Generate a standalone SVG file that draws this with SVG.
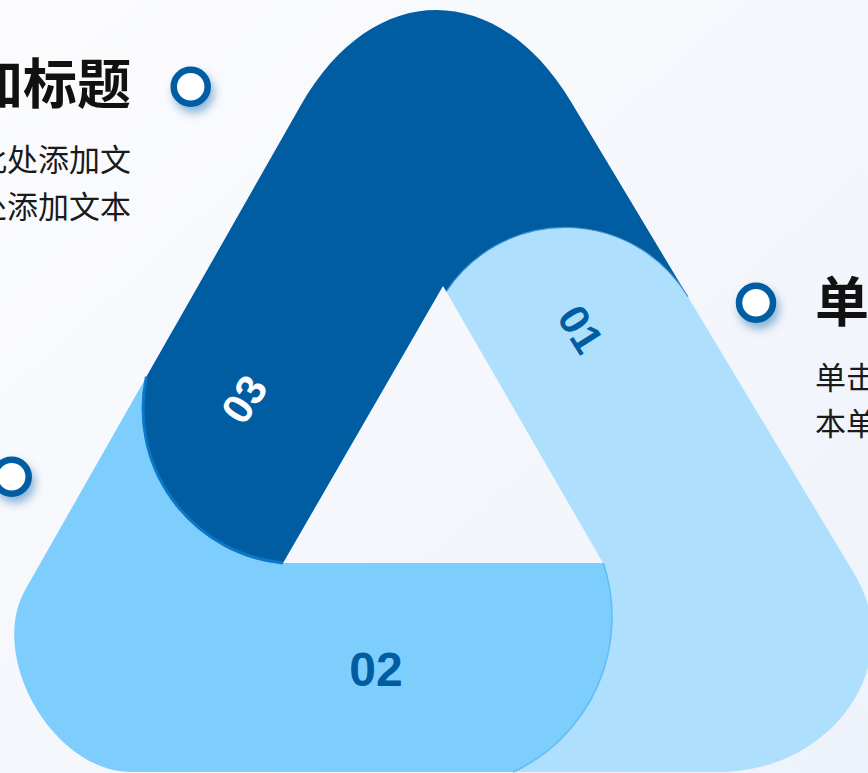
<svg xmlns="http://www.w3.org/2000/svg" width="868" height="773" viewBox="0 0 868 773">
<defs>
<linearGradient id="bg" x1="0" y1="0" x2="1" y2="1"><stop offset="0" stop-color="#fcfcfe"/><stop offset="1" stop-color="#eef2fa"/></linearGradient>
<filter id="glow" x="-100%" y="-100%" width="300%" height="300%"><feDropShadow dx="3" dy="6" stdDeviation="5" flood-color="#0a5ea8" flood-opacity="0.45"/></filter>
</defs>
<style>
.dark{fill:#005da1}
.mid{fill:#7ecefd}
.light{fill:#aee0fd}
.num{font-family:"Liberation Sans",Arial,sans-serif;font-weight:bold;text-anchor:middle}
.title{font-family:"Noto Sans CJK SC","Noto Sans",sans-serif;font-weight:bold;font-size:54px;fill:#111}
.body{font-family:"Noto Sans CJK SC","Noto Sans",sans-serif;font-size:31px;fill:#1a1a1a}
.ring{fill:#fff;stroke:#005da1;stroke-width:6.5}
</style>
<rect width="868" height="773" fill="url(#bg)"/>
<g id="node-01">
<path class="light" d="M446.2,291.5 A143,143 0 0 1 688,296.8 L854.9,574.8 C908.1,663.5 833,772 718.2,772 L450,772 L450,563 L603,563 Z"/>
<text class="num" transform="translate(581,329) rotate(58)" x="0" y="15" font-size="42" fill="#005da1">01</text>
</g>
<g id="node-02">
<path class="mid" d="M603.3,563 A171,171 0 0 1 513.2,772 L131.5,772 C53.8,772 -13,657 25.4,589.5 L173,330 L417.6,330 L283,563 Z"/>
<text class="num" x="376" y="686" font-size="48" fill="#005da1">02</text>
</g>
<g id="node-03">
<path class="dark" d="M146.4,376.8 L300.8,105.3 C372.4,-20.5 496.8,-21.9 571.3,102.2 L688,296.8 A143,143 0 0 0 446.2,291.5 L443,286 L283,563 A155,155 0 0 1 146.4,376.8 Z"/>
<text class="num" transform="translate(244,399) rotate(-57)" x="0" y="15" font-size="42" fill="#ffffff">03</text>
</g>
<g id="accents" fill="none">
<path d="M283,563 A155,155 0 0 1 146.4,376.8" stroke="#0a78c8" stroke-width="3"/>
<path d="M446.2,291.5 A143,143 0 0 1 688,296.8" stroke="#3d8fd2" stroke-width="1.2"/>
<path d="M603.3,563 A171,171 0 0 1 513.2,772" stroke="#5ebdf6" stroke-width="1.5"/>
</g>
<g id="connectors"></g>
<g id="marker-1"><circle class="ring" cx="190.7" cy="86.7" r="17" filter="url(#glow)"/></g>
<g id="marker-2"><circle class="ring" cx="756" cy="302.7" r="17" filter="url(#glow)"/></g>
<g id="marker-3"><circle class="ring" cx="11.7" cy="476.7" r="17" filter="url(#glow)"/></g>
<g id="label-left">
<text class="title" x="131" y="104" text-anchor="end">加标题</text>
<text class="body" x="131" y="171" text-anchor="end">此处添加文</text>
<text class="body" x="131" y="218" text-anchor="end">处添加文本</text>
</g>
<g id="label-right">
<text class="title" x="815" y="322">单击</text>
<text class="body" x="815" y="389">单击</text>
<text class="body" x="815" y="435">本单</text>
</g>
</svg>
